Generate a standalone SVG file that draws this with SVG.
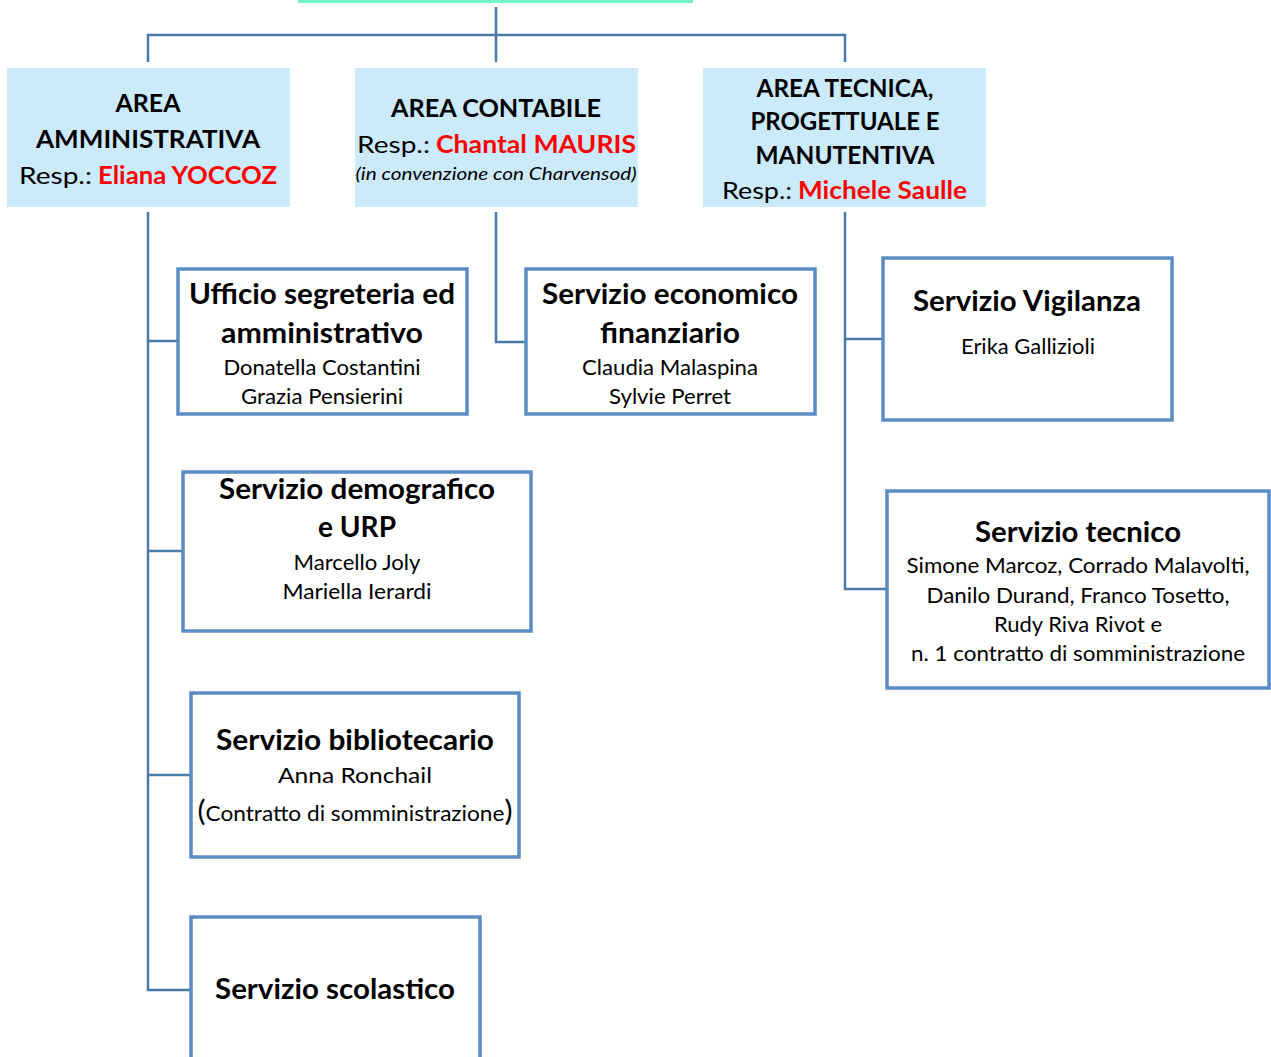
<svg xmlns="http://www.w3.org/2000/svg" width="1271" height="1057" viewBox="0 0 1271 1057">
<style>
text{font-family:Lato,"Liberation Sans",sans-serif;text-anchor:middle;fill:#000}
.area{fill:#cbeafb;stroke:none}
.box{fill:#fff;stroke:#5b8dc5;stroke-width:3.5}
.h{font-weight:bold;font-size:24px}
.r{font-size:24px}
.red{fill:#ff0000;font-weight:bold;font-size:24px}
.it{font-style:italic;font-size:18px}
.t{font-weight:bold;font-size:28px}
.n{font-size:21px}
.st{text-anchor:start}
.conn{fill:none;stroke:#4a7ba7;stroke-width:2.5}
</style>
<rect x="298" y="0" width="395" height="3" fill="#74f5c9"/>
<g id="connectors">
<path class="conn" d="M496 7V62M148 62V35H845V62"/>
<path class="conn" d="M148 212V990H191M148 341H178M148 551H183M148 775H191"/>
<path class="conn" d="M496 212V342H526"/>
<path class="conn" d="M845 212V589H887M845 339H883"/>
</g>
<g id="area-amministrativa">
<rect class="area" x="7" y="68" width="283" height="139"/>
<text class="h" x="148" y="112" textLength="65" lengthAdjust="spacingAndGlyphs">AREA</text>
<text class="h" x="148" y="148" textLength="224" lengthAdjust="spacingAndGlyphs">AMMINISTRATIVA</text>
<text class="r st" x="19" y="184" textLength="73" lengthAdjust="spacingAndGlyphs">Resp.:</text>
<text class="red st" x="98" y="184" textLength="179" lengthAdjust="spacingAndGlyphs">Eliana YOCCOZ</text>
</g>
<g id="area-contabile">
<rect class="area" x="355" y="68" width="283" height="139"/>
<text class="h" x="496" y="117" textLength="210" lengthAdjust="spacingAndGlyphs">AREA CONTABILE</text>
<text class="r st" x="357" y="153" textLength="73" lengthAdjust="spacingAndGlyphs">Resp.:</text>
<text class="red st" x="436" y="153" textLength="200" lengthAdjust="spacingAndGlyphs">Chantal MAURIS</text>
<text class="it" x="496" y="180" textLength="281" lengthAdjust="spacingAndGlyphs">(in convenzione con Charvensod)</text>
</g>
<g id="area-tecnica">
<rect class="area" x="703" y="68" width="283" height="139"/>
<text class="h" x="845" y="97" textLength="177" lengthAdjust="spacingAndGlyphs">AREA TECNICA,</text>
<text class="h" x="845" y="130" textLength="189" lengthAdjust="spacingAndGlyphs">PROGETTUALE E</text>
<text class="h" x="845" y="164" textLength="179" lengthAdjust="spacingAndGlyphs">MANUTENTIVA</text>
<text class="r st" x="722" y="199" textLength="70" lengthAdjust="spacingAndGlyphs">Resp.:</text>
<text class="red st" x="798" y="199" textLength="169" lengthAdjust="spacingAndGlyphs">Michele Saulle</text>
</g>
<g id="ufficio-segreteria">
<rect class="box" x="178" y="269" width="289" height="145"/>
<text class="t" x="322" y="304" textLength="266" lengthAdjust="spacingAndGlyphs">Ufficio segreteria ed</text>
<text class="t" x="322" y="343" textLength="202" lengthAdjust="spacingAndGlyphs">amministrativo</text>
<text class="n" x="322" y="375" textLength="197" lengthAdjust="spacingAndGlyphs">Donatella Costantini</text>
<text class="n" x="322" y="404" textLength="162" lengthAdjust="spacingAndGlyphs">Grazia Pensierini</text>
</g>
<g id="servizio-economico">
<rect class="box" x="526" y="269" width="289" height="145"/>
<text class="t" x="670" y="304" textLength="256" lengthAdjust="spacingAndGlyphs">Servizio economico</text>
<text class="t" x="670" y="343" textLength="140" lengthAdjust="spacingAndGlyphs">finanziario</text>
<text class="n" x="670" y="375" textLength="176" lengthAdjust="spacingAndGlyphs">Claudia Malaspina</text>
<text class="n" x="670" y="404" textLength="122" lengthAdjust="spacingAndGlyphs">Sylvie Perret</text>
</g>
<g id="servizio-vigilanza">
<rect class="box" x="883" y="258" width="289" height="162"/>
<text class="t" x="1027" y="311" textLength="228" lengthAdjust="spacingAndGlyphs">Servizio Vigilanza</text>
<text class="n" x="1028" y="354" textLength="134" lengthAdjust="spacingAndGlyphs">Erika Gallizioli</text>
</g>
<g id="servizio-tecnico">
<rect class="box" x="887" y="491" width="382" height="197"/>
<text class="t" x="1078" y="542" textLength="206" lengthAdjust="spacingAndGlyphs">Servizio tecnico</text>
<text class="n" x="1078" y="573" textLength="343" lengthAdjust="spacingAndGlyphs">Simone Marcoz, Corrado Malavolti,</text>
<text class="n" x="1078" y="603" textLength="303" lengthAdjust="spacingAndGlyphs">Danilo Durand, Franco Tosetto,</text>
<text class="n" x="1078" y="632" textLength="168" lengthAdjust="spacingAndGlyphs">Rudy Riva Rivot e</text>
<text class="n" x="1078" y="661" textLength="334" lengthAdjust="spacingAndGlyphs">n. 1 contratto di somministrazione</text>
</g>
<g id="servizio-demografico">
<rect class="box" x="183" y="472" width="348" height="159"/>
<text class="t" x="357" y="499" textLength="276" lengthAdjust="spacingAndGlyphs">Servizio demografico</text>
<text class="t" x="357" y="537" textLength="78" lengthAdjust="spacingAndGlyphs">e URP</text>
<text class="n" x="357" y="570" textLength="127" lengthAdjust="spacingAndGlyphs">Marcello Joly</text>
<text class="n" x="357" y="599" textLength="149" lengthAdjust="spacingAndGlyphs">Mariella Ierardi</text>
</g>
<g id="servizio-bibliotecario">
<rect class="box" x="191" y="693" width="328" height="164"/>
<text class="t" x="355" y="750" textLength="278" lengthAdjust="spacingAndGlyphs">Servizio bibliotecario</text>
<text class="n" x="355" y="783" font-size="23" textLength="154" lengthAdjust="spacingAndGlyphs">Anna Ronchail</text>
<text class="n" x="355" y="821" textLength="315" lengthAdjust="spacingAndGlyphs"><tspan font-size="28">(</tspan>Contratto di somministrazione<tspan font-size="28">)</tspan></text>
</g>
<g id="servizio-scolastico">
<rect class="box" x="191" y="917" width="289" height="150"/>
<text class="t" x="335" y="999" textLength="240" lengthAdjust="spacingAndGlyphs">Servizio scolastico</text>
</g>
</svg>
